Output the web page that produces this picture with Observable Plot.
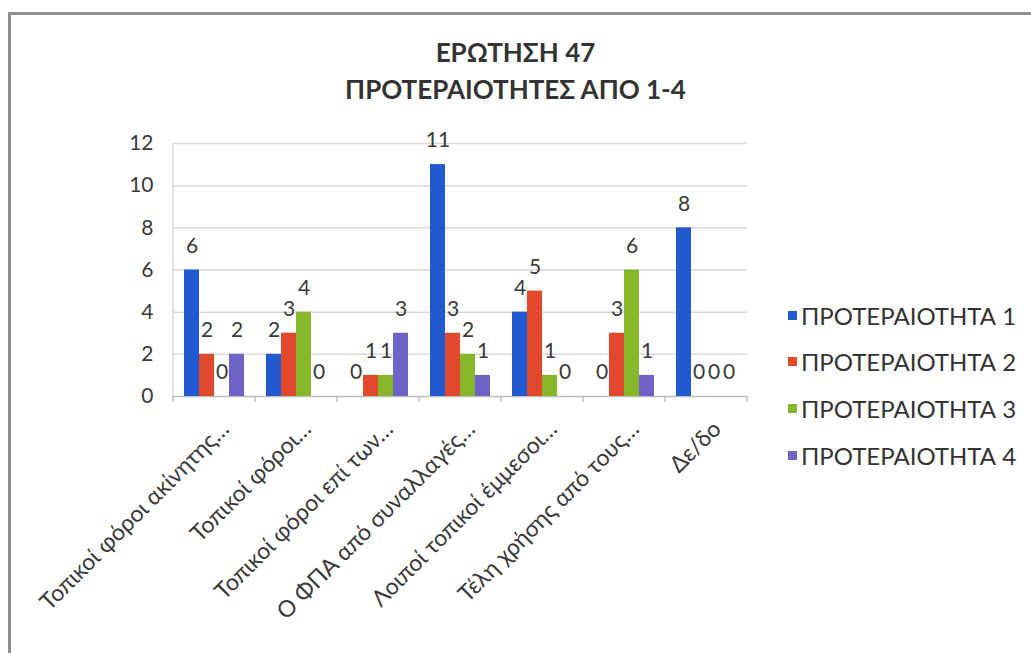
<!DOCTYPE html>
<html><head><meta charset="utf-8">
<script src="https://cdn.jsdelivr.net/npm/d3@7"></script>
<script src="https://cdn.jsdelivr.net/npm/@observablehq/plot@0.6"></script>
<style>
body{margin:0;background:#fff;font-family:Lato,"Open Sans",sans-serif;}
#wrap{position:relative;width:1031px;height:653px;overflow:hidden;background:#fff;}
#frame{position:absolute;left:8px;top:12px;width:1100px;height:700px;border-top:3px solid #8e8e94;border-left:3px solid #8e8e94;}
#chart{position:absolute;left:0;top:0;}
#title{position:absolute;left:0;width:1031px;top:34px;text-align:center;font-weight:bold;font-size:26px;line-height:37px;color:#333;}
#legend{position:absolute;left:788px;top:292px;}
.item{display:flex;align-items:center;height:46.6px;font-size:24px;color:#333;white-space:nowrap;}
.sw{width:9px;height:9px;margin-right:4px;}
</style></head>
<body><div id="wrap"><div id="frame"></div><div id="chart"></div><div id="title"></div><div id="legend"></div></div>
<script>
const categories = ["Τοπικοί φόροι ακίνητης…", "Τοπικοί φόροι…", "Τοπικοί φόροι επί των…", "Ο ΦΠΑ από συναλλαγές…", "Λοιποί τοπικοί έμμεσοι…", "Τέλη χρήσης από τους…", "Δε/δο"];
const seriesNames = ["ΠΡΟΤΕΡΑΙΟΤΗΤΑ 1", "ΠΡΟΤΕΡΑΙΟΤΗΤΑ 2", "ΠΡΟΤΕΡΑΙΟΤΗΤΑ 3", "ΠΡΟΤΕΡΑΙΟΤΗΤΑ 4"];
const p1 = [6, 2, 0, 11, 4, 0, 8];
const p2 = [2, 3, 1, 3, 5, 3, 0];
const p3 = [0, 4, 1, 2, 1, 6, 0];
const p4 = [2, 0, 3, 1, 0, 1, 0];
const yTicks = [0, 2, 4, 6, 8, 10, 12];
const colors = ["#2159d0", "#e2482c", "#86b72a", "#7063c8"];
const titleLines = ["ΕΡΩΤΗΣΗ 47", "ΠΡΟΤΕΡΑΙΟΤΗΤΕΣ ΑΠΟ 1-4"];

const values = [p1, p2, p3, p4];
const data = categories.flatMap((c, i) => seriesNames.map((s, j) => ({cat: c, series: s, value: values[j][i]})));

const chart = Plot.plot({
  width: 1031, height: 653,
  marginLeft: 173, marginRight: 284, marginTop: 143, marginBottom: 257,
  style: {fontFamily: "Lato, 'Open Sans', sans-serif", background: "transparent", color: "#3a3a3a", fontSize: "21px"},
  facet: {data, x: "cat"},
  fx: {domain: categories, padding: 0, axis: null},
  x: {domain: seriesNames, paddingInner: 0, paddingOuter: 0.733, axis: null},
  y: {domain: [0, 12], ticks: yTicks, tickSize: 0, tickPadding: 20, label: null},
  color: {domain: seriesNames, range: colors},
  marks: [
    Plot.ruleY(yTicks.slice(1), {stroke: "#d9d9d9", strokeWidth: 1.5}),
    Plot.ruleY([0], {stroke: "#bdbdbd", strokeWidth: 1.5}),
    Plot.barY(data, {x: "series", y: "value", fill: "series"}),
    Plot.text(data, {x: "series", y: "value", text: d => String(d.value), dy: -24, fill: "#3a3a3a", fontSize: 21}),
    Plot.text(data, {filter: d => d.series === seriesNames[0], text: "cat", frameAnchor: "bottom", rotate: -45, textAnchor: "end", dx: 16, dy: 34, fontSize: 23, fill: "#3a3a3a"})
  ]
});
document.getElementById("chart").appendChild(chart);

// category boundary ticks and left axis line, positioned with Plot's own scales
try {
  const fx = chart.scale("fx"), y = chart.scale("y");
  const svg = d3.select(chart);
  const y0 = y.apply(0), yTop = y.apply(12);
  const bw = fx.bandwidth != null ? fx.bandwidth : (fx.range[1] - fx.range[0]) / categories.length;
  const xs = categories.map(c => fx.apply(c));
  xs.push(xs[xs.length - 1] + bw);
  const g = svg.append("g").attr("stroke", "#bdbdbd").attr("stroke-width", 1.5);
  xs.forEach(x => g.append("line").attr("x1", x).attr("x2", x).attr("y1", y0).attr("y2", y0 + 6));
  g.append("line").attr("x1", xs[0]).attr("x2", xs[0]).attr("y1", yTop).attr("y2", y0).attr("stroke", "#d9d9d9");
} catch (e) { console.error(e); }

const t = document.getElementById("title");
titleLines.forEach(l => { const d = document.createElement("div"); d.textContent = l; t.appendChild(d); });
const lg = document.getElementById("legend");
seriesNames.forEach((s, i) => {
  const it = document.createElement("div"); it.className = "item";
  const sw = document.createElement("span"); sw.className = "sw"; sw.style.background = colors[i];
  const tx = document.createElement("span"); tx.textContent = s;
  it.appendChild(sw); it.appendChild(tx); lg.appendChild(it);
});
</script>
</body></html>
